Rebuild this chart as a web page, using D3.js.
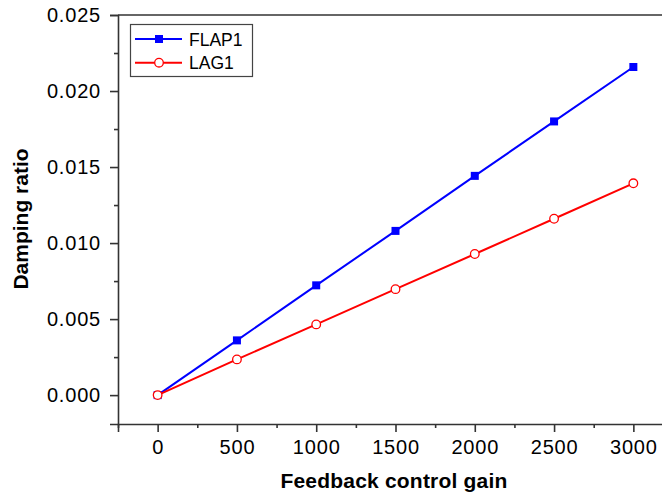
<!DOCTYPE html>
<html>
<head>
<meta charset="utf-8">
<script src="https://cdn.jsdelivr.net/npm/d3@7"></script>
<style>
  body { margin: 0; background: #fff; }
  svg { display: block; font-family: "Liberation Sans", Arial, Helvetica, sans-serif; }
</style>
</head>
<body>
<svg id="chart" width="662" height="494"></svg>
<script>
const gains = [0, 500, 1000, 1500, 2000, 2500, 3000];
const flap1 = [0, 0.0036, 0.00722, 0.0108, 0.01442, 0.0180, 0.02158];
const lag1 = [0, 0.00235, 0.00465, 0.00697, 0.00928, 0.0116, 0.01393];
const xTicks = [0, 500, 1000, 1500, 2000, 2500, 3000];
const xMinor = [-250, 250, 750, 1250, 1750, 2250, 2750, 3250];
const yTicks = [0, 0.005, 0.010, 0.015, 0.020, 0.025];
const yMinor = [0.0025, 0.0075, 0.0125, 0.0175, 0.0225];
const seriesNames = ["FLAP1", "LAG1"];
const seriesColors = ["#0000ff", "#ff0000"];

(function () {
const svg = d3.select("#chart");
const mLeft = 118, mTop = 15, mBottom = 424;
const x = d3.scaleLinear().domain([-250, 3250]).range([mLeft, mLeft + 555]);
const y = d3.scaleLinear().domain([-0.0019, 0.025]).range([mBottom, mTop]);
const axisColor = "#333";

// X axis major
const gx = svg.append("g").attr("transform", `translate(0,${mBottom})`)
  .call(d3.axisBottom(x).tickValues(xTicks).tickSize(8).tickPadding(8).tickFormat(d3.format("d")));
gx.select(".domain").attr("stroke", axisColor).attr("stroke-width", 1.6);
gx.selectAll(".tick line").attr("stroke", axisColor).attr("stroke-width", 1.6);
gx.selectAll(".tick text").attr("fill", "#000").attr("font-size", 20).attr("letter-spacing", 0.8)
  .attr("font-family", "'Liberation Sans', Arial, sans-serif");
const gxm = svg.append("g").attr("transform", `translate(0,${mBottom})`)
  .call(d3.axisBottom(x).tickValues(xMinor).tickSize(4).tickFormat(""));
gxm.select(".domain").remove();
gxm.selectAll(".tick line").attr("stroke", axisColor).attr("stroke-width", 1.6);

// Y axis major
const gy = svg.append("g").attr("transform", `translate(${mLeft},0)`)
  .call(d3.axisLeft(y).tickValues(yTicks).tickSize(8).tickPadding(9).tickFormat(d3.format(".3f")));
gy.select(".domain").attr("stroke", axisColor).attr("stroke-width", 1.6);
gy.selectAll(".tick line").attr("stroke", axisColor).attr("stroke-width", 1.6);
gy.selectAll(".tick text").attr("fill", "#000").attr("font-size", 20).attr("letter-spacing", 0.8)
  .attr("font-family", "'Liberation Sans', Arial, sans-serif");
const gym = svg.append("g").attr("transform", `translate(${mLeft},0)`)
  .call(d3.axisLeft(y).tickValues(yMinor).tickSize(4).tickFormat(""));
gym.select(".domain").remove();
gym.selectAll(".tick line").attr("stroke", axisColor).attr("stroke-width", 1.6);

// Top border
svg.append("line").attr("x1", mLeft).attr("x2", 662).attr("y1", y(0.025)).attr("y2", y(0.025))
  .attr("stroke", axisColor).attr("stroke-width", 1.6);

// Lines
const line = d3.line().x((d, i) => x(gains[i])).y(d => y(d));
[flap1, lag1].forEach((vals, k) => {
  svg.append("path").datum(vals).attr("d", line).attr("fill", "none")
    .attr("stroke", seriesColors[k]).attr("stroke-width", 2);
});
svg.append("g").selectAll("rect").data(flap1).join("rect")
  .attr("x", (d, i) => x(gains[i]) - 4).attr("y", d => y(d) - 4)
  .attr("width", 8).attr("height", 8).attr("fill", seriesColors[0]);
svg.append("g").selectAll("circle").data(lag1).join("circle")
  .attr("cx", (d, i) => x(gains[i])).attr("cy", d => y(d)).attr("r", 4.3)
  .attr("fill", "#fff").attr("stroke", seriesColors[1]).attr("stroke-width", 1.3);

// Legend
const lg = svg.append("g");
lg.append("rect").attr("x", 130.5).attr("y", 24.5).attr("width", 122).attr("height", 52)
  .attr("fill", "#fff").attr("stroke", "#444").attr("stroke-width", 1.2);
seriesNames.forEach((name, k) => {
  const cy = 39 + k * 23.7;
  lg.append("line").attr("x1", 135).attr("x2", 182).attr("y1", cy).attr("y2", cy)
    .attr("stroke", seriesColors[k]).attr("stroke-width", 2);
  if (k === 0) {
    lg.append("rect").attr("x", 155).attr("y", cy - 4).attr("width", 8).attr("height", 8).attr("fill", seriesColors[0]);
  } else {
    lg.append("circle").attr("cx", 159).attr("cy", cy).attr("r", 4.3)
      .attr("fill", "#fff").attr("stroke", seriesColors[1]).attr("stroke-width", 1.3);
  }
  lg.append("text").attr("x", 189).attr("y", cy + 6.5).attr("font-size", 17.5)
    .attr("fill", "#000").text(name);
});

// Axis titles
svg.append("text").attr("x", 394).attr("y", 488).attr("text-anchor", "middle")
  .attr("font-size", 21).attr("font-weight", "bold").attr("letter-spacing", 0.2).text("Feedback control gain");
svg.append("text").attr("transform", "translate(28,219) rotate(-90)").attr("text-anchor", "middle")
  .attr("font-size", 21).attr("font-weight", "bold").text("Damping ratio");
})();
</script>
</body>
</html>
